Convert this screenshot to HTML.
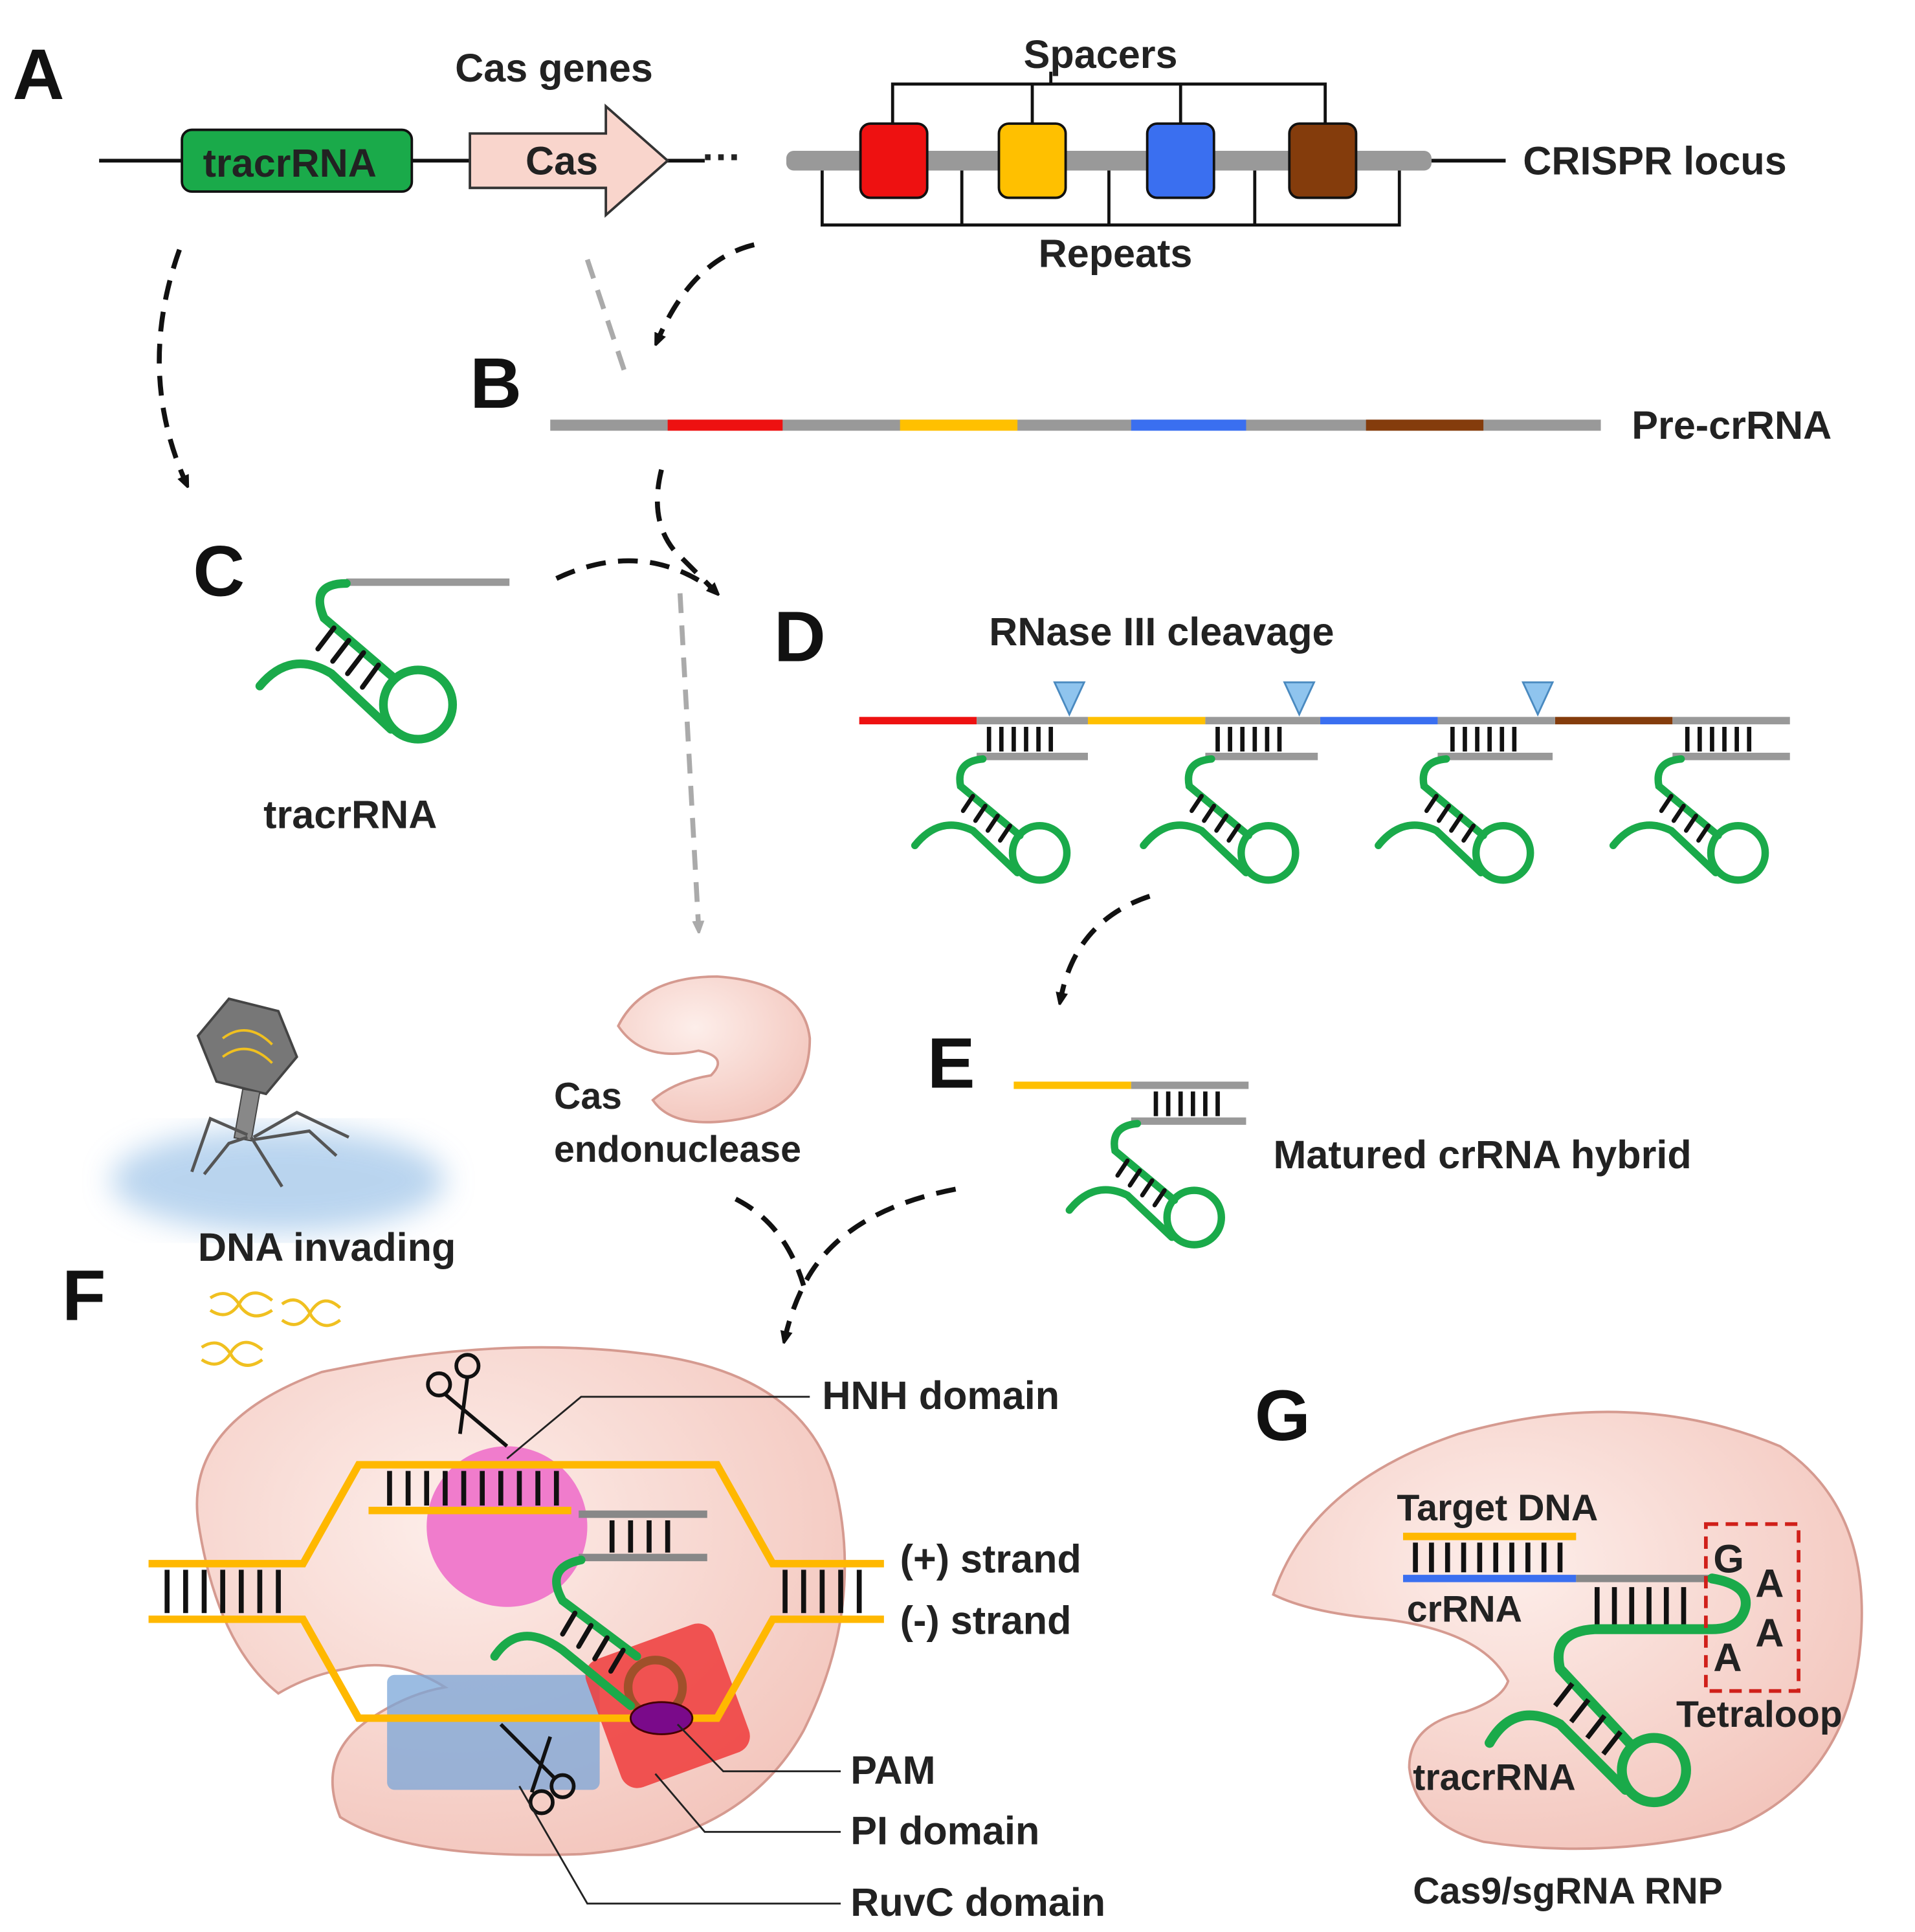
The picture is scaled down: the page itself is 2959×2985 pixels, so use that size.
<!DOCTYPE html>
<html><head><meta charset="utf-8"><style>html,body{margin:0;padding:0;background:#fff}svg{display:block}text{font-family:"Liberation Sans",sans-serif;fill:#222}</style></head><body>
<svg width="2959" height="2985" viewBox="0 0 1549 1563" xmlns="http://www.w3.org/2000/svg">
<defs>
<marker id="ah" markerWidth="10" markerHeight="10" refX="5" refY="5" orient="auto" markerUnits="userSpaceOnUse"><path d="M0,0 L12,5 L0,10 z" fill="#111"/></marker>
<marker id="ahg" markerWidth="10" markerHeight="10" refX="5" refY="5" orient="auto" markerUnits="userSpaceOnUse"><path d="M0,0 L12,5 L0,10 z" fill="#aaa"/></marker>
<radialGradient id="pk" cx="40%" cy="35%" r="70%"><stop offset="0" stop-color="#fdeeea"/><stop offset="1" stop-color="#f3c6bd"/></radialGradient>
<filter id="bl"><feGaussianBlur stdDeviation="12"/></filter>
<g id="hp" fill="none" stroke-width="6" stroke-linecap="round">
<path d="M0,0 Q-22,2 -18,22 L30,62" stroke="#1aaa4a"/>
<circle cx="46" cy="76" r="22" stroke="#1aaa4a"/>
<path d="M28,92 L-8,58 Q-35,45 -55,70" stroke="#1aaa4a"/>
<g stroke="#111" stroke-width="3.5"><line x1="-8" y1="30" x2="-16" y2="42"/><line x1="2" y1="38" x2="-6" y2="50"/><line x1="12" y1="46" x2="4" y2="58"/><line x1="22" y1="54" x2="14" y2="66"/></g>
</g>
</defs>
<style>.L{font-size:58px;font-weight:bold;fill:#111}.t{font-size:32px;font-weight:bold}</style>

<!-- A -->
<text class="L" x="10" y="80">A</text>
<text class="t" x="368" y="66">Cas genes</text>
<line x1="80" y1="130" x2="570" y2="130" stroke="#111" stroke-width="3"/>
<rect x="147" y="105" width="186" height="50" rx="8" fill="#1aaa4a" stroke="#111" stroke-width="2"/>
<text class="t" x="164" y="143" style="fill:#222">tracrRNA</text>
<path d="M380,108 L490,108 L490,86 L540,130 L490,174 L490,152 L380,152 z" fill="#f9d5cc" stroke="#333" stroke-width="2"/>
<text class="t" x="425" y="141">Cas</text>
<text class="t" x="568" y="138">···</text>
<rect x="636" y="122" width="522" height="16" rx="6" fill="#999"/>
<g stroke="#111" stroke-width="2"><rect x="696" y="100" width="54" height="60" rx="8" fill="#ee1111"/><rect x="808" y="100" width="54" height="60" rx="8" fill="#ffc000"/><rect x="928" y="100" width="54" height="60" rx="8" fill="#3a6ff0"/><rect x="1043" y="100" width="54" height="60" rx="8" fill="#843c0c"/></g>
<g fill="none" stroke="#111" stroke-width="2.5"><path d="M722,100 V68 H1072 V100 M835,68 V100 M955,68 V100 M850,68 V58"/><path d="M665,138 V182 H1132 V138 M778,138 V182 M897,138 V182 M1015,138 V182"/></g>
<text class="t" x="828" y="55">Spacers</text>
<text class="t" x="840" y="216">Repeats</text>
<line x1="1158" y1="130" x2="1218" y2="130" stroke="#111" stroke-width="3"/>
<text class="t" x="1232" y="141">CRISPR locus</text>

<g fill="none" stroke="#111" stroke-width="4" stroke-dasharray="16,10">
<path d="M145,202 Q110,300 150,390" marker-end="url(#ah)"/>
<path d="M610,198 Q560,210 532,275" marker-end="url(#ah)"/>
<path d="M535,380 Q525,420 545,445 Q560,460 578,478" marker-end="url(#ah)"/>
<path d="M450,468 Q520,435 578,478"/>
<path d="M930,725 Q870,745 858,808" marker-end="url(#ah)"/>
<path d="M595,970 Q635,990 650,1040"/>
<path d="M773,962 Q680,980 650,1040 Q640,1060 635,1082" marker-end="url(#ah)"/>
</g>
<g fill="none" stroke="#aaa" stroke-width="4" stroke-dasharray="16,10">
<path d="M475,210 L505,300"/>
<path d="M550,480 L565,750" marker-end="url(#ahg)"/>
</g>

<!-- B -->
<text class="L" x="380" y="330">B</text>
<g stroke-width="9"><line x1="445" y1="344" x2="1295" y2="344" stroke="#999"/><line x1="540" y1="344" x2="633" y2="344" stroke="#ee1111"/><line x1="728" y1="344" x2="823" y2="344" stroke="#ffc000"/><line x1="915" y1="344" x2="1008" y2="344" stroke="#3a6ff0"/><line x1="1105" y1="344" x2="1200" y2="344" stroke="#843c0c"/></g>
<text class="t" x="1320" y="355">Pre-crRNA</text>

<!-- C -->
<text class="L" x="156" y="482">C</text>
<line x1="280" y1="471" x2="412" y2="471" stroke="#999" stroke-width="6"/>
<g fill="none" stroke-width="7" stroke-linecap="round">
<path d="M280,472 Q250,472 262,500 L318,548" stroke="#1aaa4a"/>
<circle cx="338" cy="570" r="28" stroke="#1aaa4a"/>
<path d="M316,590 L268,545 Q235,525 210,555" stroke="#1aaa4a"/>
<g stroke="#111" stroke-width="4"><line x1="270" y1="508" x2="257" y2="525"/><line x1="282" y1="518" x2="269" y2="535"/><line x1="294" y1="528" x2="281" y2="545"/><line x1="306" y1="538" x2="293" y2="556"/></g>
</g>
<text class="t" x="213" y="670">tracrRNA</text>

<!-- D -->
<text class="L" x="626" y="535">D</text>
<text class="t" x="800" y="522">RNase III cleavage</text>
<g stroke-width="6">
<line x1="695" y1="583" x2="790" y2="583" stroke="#ee1111"/><line x1="880" y1="583" x2="975" y2="583" stroke="#ffc000"/><line x1="1068" y1="583" x2="1163" y2="583" stroke="#3a6ff0"/><line x1="1258" y1="583" x2="1353" y2="583" stroke="#843c0c"/>
<g stroke="#999"><line x1="790" y1="583" x2="880" y2="583"/><line x1="975" y1="583" x2="1068" y2="583"/><line x1="1163" y1="583" x2="1258" y2="583"/><line x1="1353" y1="583" x2="1448" y2="583"/>
<line x1="790" y1="612" x2="880" y2="612"/><line x1="975" y1="612" x2="1066" y2="612"/><line x1="1163" y1="612" x2="1256" y2="612"/><line x1="1353" y1="612" x2="1448" y2="612"/></g>
</g>
<g stroke="#111" stroke-width="3.5">
<path d="M800,588V608M810,588V608M820,588V608M830,588V608M840,588V608M850,588V608"/>
<path d="M985,588V608M995,588V608M1005,588V608M1015,588V608M1025,588V608M1035,588V608"/>
<path d="M1175,588V608M1185,588V608M1195,588V608M1205,588V608M1215,588V608M1225,588V608"/>
<path d="M1365,588V608M1375,588V608M1385,588V608M1395,588V608M1405,588V608M1415,588V608"/>
</g>
<g fill="#8fc4ee" stroke="#4a8ac0" stroke-width="1.5"><path d="M853,552 L877,552 L865,578z"/><path d="M1039,552 L1063,552 L1051,578z"/><path d="M1232,552 L1256,552 L1244,578z"/></g>
<use href="#hp" x="795" y="614"/><use href="#hp" x="980" y="614"/><use href="#hp" x="1170" y="614"/><use href="#hp" x="1360" y="614"/>

<!-- E -->
<text class="L" x="750" y="880">E</text>
<line x1="820" y1="878" x2="915" y2="878" stroke="#ffc000" stroke-width="6"/>
<line x1="915" y1="878" x2="1010" y2="878" stroke="#999" stroke-width="6"/>
<line x1="915" y1="907" x2="1008" y2="907" stroke="#999" stroke-width="6"/>
<path d="M935,883V903M945,883V903M955,883V903M965,883V903M975,883V903M985,883V903" stroke="#111" stroke-width="3.5"/>
<use href="#hp" x="920" y="909"/>
<text class="t" x="1030" y="945">Matured crRNA hybrid</text>

<!-- Cas endonuclease -->
<path d="M500,830 Q520,790 580,790 Q650,795 655,840 Q655,895 600,905 Q545,915 528,890 Q545,875 575,870 Q590,855 565,850 Q520,860 500,830z" fill="url(#pk)" stroke="#d59a90" stroke-width="2"/>
<text class="t" x="448" y="897" style="font-size:30px">Cas</text>
<text class="t" x="448" y="940" style="font-size:30px">endonuclease</text>

<!-- phage -->
<ellipse cx="225" cy="955" rx="135" ry="42" fill="#9cc3e8" opacity="0.7" filter="url(#bl)"/>
<path d="M185,808 L225,818 L240,855 L215,885 L175,875 L160,838z" fill="#777" stroke="#444" stroke-width="2"/>
<path d="M180,840 Q200,825 220,845 M180,855 Q200,840 220,860" stroke="#f0c020" stroke-width="2" fill="none"/>
<rect x="193" y="882" width="14" height="40" fill="#888" stroke="#444" transform="rotate(10 200 900)"/>
<g stroke="#555" stroke-width="2.5" fill="none"><path d="M200,918 L170,905 L155,948"/><path d="M205,920 L240,900 L282,920"/><path d="M205,922 L250,915 L272,935"/><path d="M200,920 L185,925 L165,950"/><path d="M203,920 L228,960"/></g>
<text class="t" x="160" y="1020">DNA invading</text>
<g stroke="#f0c020" stroke-width="2.5" fill="none"><path d="M170,1050 Q185,1040 195,1058 Q205,1070 220,1060"/><path d="M170,1060 Q185,1070 195,1052 Q205,1040 220,1052"/><path d="M228,1055 Q242,1045 252,1065 Q262,1078 275,1068"/><path d="M228,1068 Q242,1078 252,1060 Q262,1046 275,1058"/><path d="M163,1090 Q178,1080 188,1098 Q198,1110 212,1100"/><path d="M163,1100 Q178,1110 188,1092 Q198,1080 212,1092"/></g>

<!-- F -->
<text class="L" x="50" y="1068">F</text>
<path d="M160,1230 Q150,1150 260,1110 Q400,1080 520,1095 Q650,1110 675,1200 Q700,1300 650,1400 Q600,1490 470,1500 Q330,1505 275,1470 Q255,1420 300,1390 Q330,1370 360,1365 Q320,1340 280,1350 Q250,1355 225,1370 Q175,1330 160,1230z" fill="url(#pk)" stroke="#d59a90" stroke-width="2"/>
<circle cx="410" cy="1235" r="65" fill="#f07ccc"/>
<rect x="313" y="1355" width="172" height="93" rx="6" fill="#7aa6d8" opacity="0.75"/>
<rect x="485" y="1325" width="110" height="110" rx="14" fill="#ef3b3b" opacity="0.85" transform="rotate(-20 540 1380)"/>
<g fill="none" stroke-width="6">
<path d="M120,1265 L245,1265 L290,1185 L580,1185 L625,1265 L715,1265" stroke="#ffb800"/>
<path d="M120,1310 L245,1310 L290,1390 L580,1390 L625,1310 L715,1310" stroke="#ffb800"/>
<line x1="298" y1="1222" x2="462" y2="1222" stroke="#ffb800"/>
<line x1="468" y1="1225" x2="572" y2="1225" stroke="#888"/>
<line x1="468" y1="1260" x2="572" y2="1260" stroke="#888"/>
</g>
<g stroke="#111" stroke-width="4">
<path d="M315,1190V1218M330,1190V1218M345,1190V1218M360,1190V1218M375,1190V1218M390,1190V1218M405,1190V1218M420,1190V1218M435,1190V1218M450,1190V1218"/>
<path d="M495,1230V1256M510,1230V1256M525,1230V1256M540,1230V1256"/>
<path d="M135,1270V1305M150,1270V1305M165,1270V1305M180,1270V1305M195,1270V1305M210,1270V1305M225,1270V1305"/>
<path d="M635,1270V1305M650,1270V1305M665,1270V1305M680,1270V1305M695,1270V1305"/>
</g>
<g fill="none" stroke-width="7" stroke-linecap="round">
<path d="M470,1262 Q440,1268 455,1295 L515,1340" stroke="#1aaa4a"/>
<circle cx="530" cy="1365" r="22" stroke="#a0502a"/>
<path d="M510,1380 L455,1335 Q420,1310 400,1340" stroke="#1aaa4a"/>
<g stroke="#111" stroke-width="4"><line x1="465" y1="1305" x2="455" y2="1322"/><line x1="478" y1="1315" x2="468" y2="1332"/><line x1="491" y1="1325" x2="481" y2="1342"/><line x1="504" y1="1335" x2="494" y2="1352"/></g>
</g>
<ellipse cx="535" cy="1390" rx="25" ry="13" fill="#7a0a8a" stroke="#400" stroke-width="1.5"/>
<!-- scissors -->
<g fill="none" stroke="#111" stroke-width="3"><circle cx="355" cy="1120" r="9"/><circle cx="378" cy="1105" r="9"/><path d="M360,1128 L410,1170 M378,1114 L372,1160"/><circle cx="455" cy="1445" r="9"/><circle cx="438" cy="1458" r="9"/><path d="M448,1438 L405,1395 M430,1450 L445,1405"/></g>
<g fill="none" stroke="#222" stroke-width="1.5">
<path d="M410,1180 L470,1130 L655,1130"/><path d="M548,1395 L585,1433 L680,1433"/><path d="M530,1435 L570,1482 L680,1482"/><path d="M420,1445 L475,1540 L680,1540"/>
</g>
<text class="t" x="665" y="1140">HNH domain</text>
<text class="t" x="728" y="1272">(+) strand</text>
<text class="t" x="728" y="1322">(-) strand</text>
<text class="t" x="688" y="1443">PAM</text>
<text class="t" x="688" y="1492">PI domain</text>
<text class="t" x="688" y="1550">RuvC domain</text>

<!-- G -->
<text class="L" x="1015" y="1165">G</text>
<path d="M1030,1290 Q1060,1200 1180,1160 Q1320,1120 1440,1170 Q1515,1220 1505,1330 Q1495,1440 1400,1480 Q1300,1505 1200,1490 Q1145,1475 1140,1430 Q1140,1395 1185,1385 Q1215,1375 1220,1360 Q1200,1320 1120,1310 Q1060,1305 1030,1290z" fill="url(#pk)" stroke="#d59a90" stroke-width="2"/>
<line x1="1135" y1="1243" x2="1275" y2="1243" stroke="#ffb800" stroke-width="6"/>
<line x1="1135" y1="1277" x2="1275" y2="1277" stroke="#3a6ff0" stroke-width="6"/>
<line x1="1275" y1="1277" x2="1385" y2="1277" stroke="#888" stroke-width="6"/>
<path d="M1145,1248V1272M1158,1248V1272M1171,1248V1272M1184,1248V1272M1197,1248V1272M1210,1248V1272M1223,1248V1272M1236,1248V1272M1249,1248V1272M1262,1248V1272" stroke="#111" stroke-width="4"/>
<path d="M1292,1284V1314M1306,1284V1314M1320,1284V1314M1334,1284V1314M1348,1284V1314M1362,1284V1314" stroke="#111" stroke-width="4"/>
<g fill="none" stroke="#1aaa4a" stroke-width="8" stroke-linecap="round">
<path d="M1385,1277 Q1415,1282 1412,1300 Q1408,1318 1385,1318 L1290,1318 Q1255,1320 1262,1350 L1318,1410"/>
<circle cx="1338" cy="1432" r="26"/>
<path d="M1315,1448 L1262,1395 Q1225,1375 1205,1410"/>
</g>
<g stroke="#111" stroke-width="4"><line x1="1272" y1="1362" x2="1258" y2="1380"/><line x1="1285" y1="1375" x2="1271" y2="1393"/><line x1="1298" y1="1388" x2="1284" y2="1406"/><line x1="1311" y1="1401" x2="1297" y2="1419"/></g>
<rect x="1380" y="1233" width="75" height="135" fill="none" stroke="#d0201a" stroke-width="3" stroke-dasharray="10,6"/>
<text class="t" x="1386" y="1272">G</text><text class="t" x="1420" y="1292">A</text><text class="t" x="1420" y="1332">A</text><text class="t" x="1386" y="1352">A</text>
<text class="t" x="1130" y="1230" style="font-size:30px">Target DNA</text>
<text class="t" x="1138" y="1312" style="font-size:30px">crRNA</text>
<text class="t" x="1356" y="1397" style="font-size:30px">Tetraloop</text>
<text class="t" x="1143" y="1448" style="font-size:30px">tracrRNA</text>
<text class="t" x="1143" y="1540" style="font-size:30px">Cas9/sgRNA RNP</text>
</svg>
</body></html>
